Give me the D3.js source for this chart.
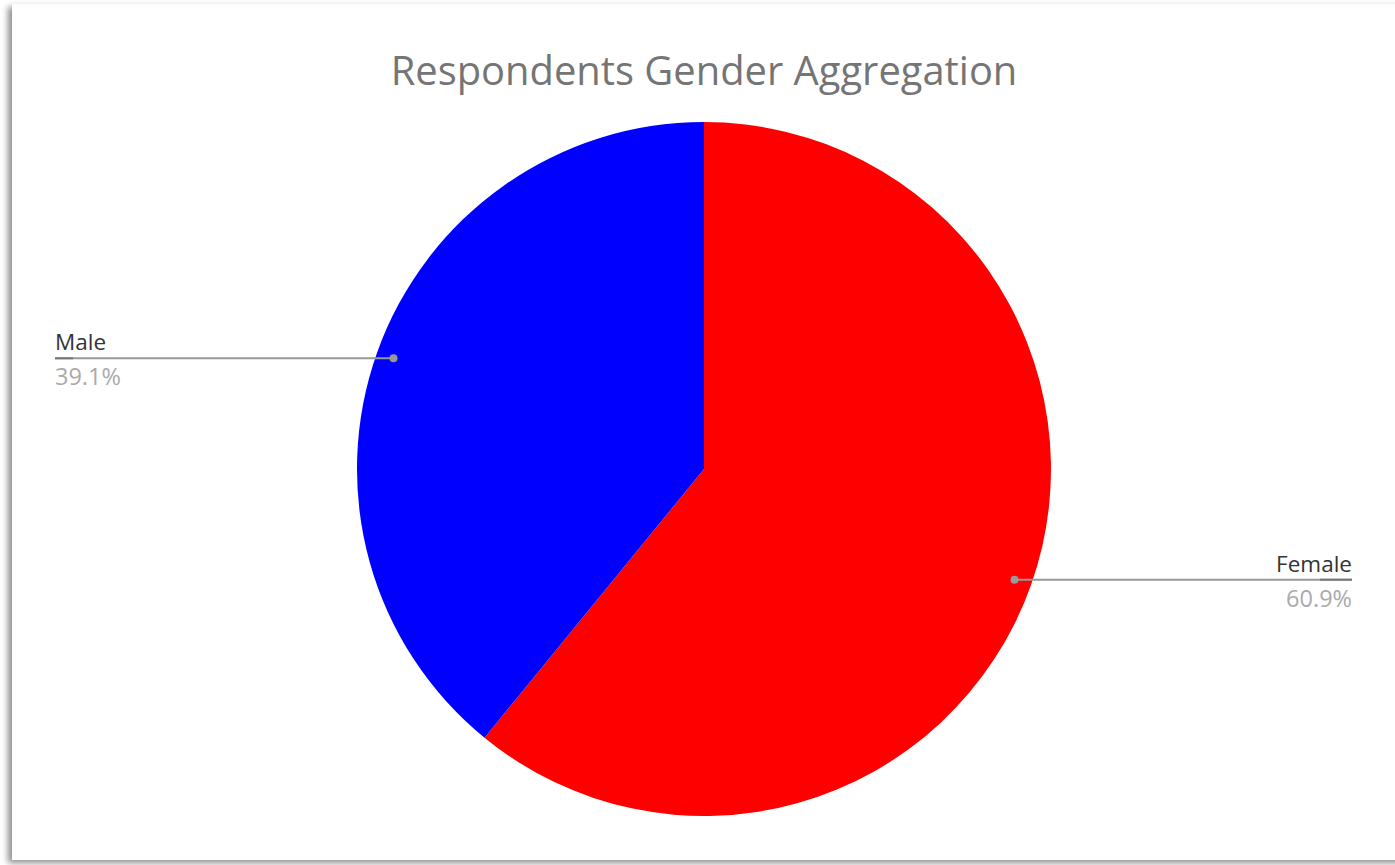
<!DOCTYPE html>
<html><head><meta charset="utf-8">
<script src="https://cdn.jsdelivr.net/npm/d3@7"></script>
<style>body{margin:0;background:#fff;}svg{display:block;}</style>
</head><body>
<svg id="chart" width="1395" height="865"></svg>
<script>
const title = "Respondents Gender Aggregation";
const categories = ["Female", "Male"];
const values = [60.9, 39.1];
const colors = ["#ff0000", "#0000ff"];

const svg = d3.select("#chart");
const defs = svg.append("defs");
const f = defs.append("filter").attr("id","sh").attr("x","-5%").attr("y","-5%").attr("width","110%").attr("height","110%");
f.append("feGaussianBlur").attr("in","SourceAlpha").attr("stdDeviation",3);
f.append("feOffset").attr("dx",-4).attr("dy",3).attr("result","o");
f.append("feComponentTransfer").append("feFuncA").attr("type","linear").attr("slope",0.45);
const m = f.append("feMerge"); m.append("feMergeNode"); m.append("feMergeNode").attr("in","SourceGraphic");

svg.append("rect").attr("x",12).attr("y",4).attr("width",1400).attr("height",856)
  .attr("fill","#fff").attr("filter","url(#sh)");

const font = "Open Sans, Noto Sans, sans-serif";
const t = svg.append("text").attr("x",704).attr("y",85).attr("text-anchor","middle")
  .attr("font-family",font).attr("fill","#757575").attr("font-size",36).text(title);
const tw = t.node().getComputedTextLength();
t.attr("font-size", 36*627/tw);

const cx = 704, cy = 469, r = 347;
const pie = d3.pie().sort(null).value(d=>d)(values);
const arc = d3.arc().innerRadius(0).outerRadius(r);
const g = svg.append("g").attr("transform",`translate(${cx},${cy})`);
g.selectAll("path").data(pie).join("path").attr("d",arc).attr("fill",(d,i)=>colors[i]);

const labelArc = d3.arc().innerRadius(r*0.95).outerRadius(r*0.95);
const fmt = d3.format(".1f");
pie.forEach((d,i)=>{
  const [px,py] = labelArc.centroid(d);
  const x0 = cx+px, y0 = cy+py;
  const right = x0 > cx;
  const xe = right ? 1352 : 55;
  svg.append("line").attr("x1",x0).attr("y1",y0).attr("x2",xe).attr("y2",y0)
    .attr("stroke","#999").attr("stroke-width",2);
  svg.append("circle").attr("cx",x0).attr("cy",y0).attr("r",4).attr("fill","#999");
  const anchor = right ? "end" : "start";
  const lt = svg.append("text").attr("x",xe).attr("y",y0-8).attr("text-anchor",anchor)
    .attr("font-family",font).attr("font-size",22.5).attr("fill","#333").text(categories[i]);
  svg.append("line").attr("x1",xe).attr("x2", right ? xe-32 : xe+18).attr("y1",y0).attr("y2",y0)
    .attr("stroke","#777").attr("stroke-width",2);
  svg.append("text").attr("x",xe).attr("y",y0+27).attr("text-anchor",anchor)
    .attr("font-family",font).attr("font-size",23.5).attr("fill","#aaa").text(fmt(values[i])+"%");
});
</script>
</body></html>
